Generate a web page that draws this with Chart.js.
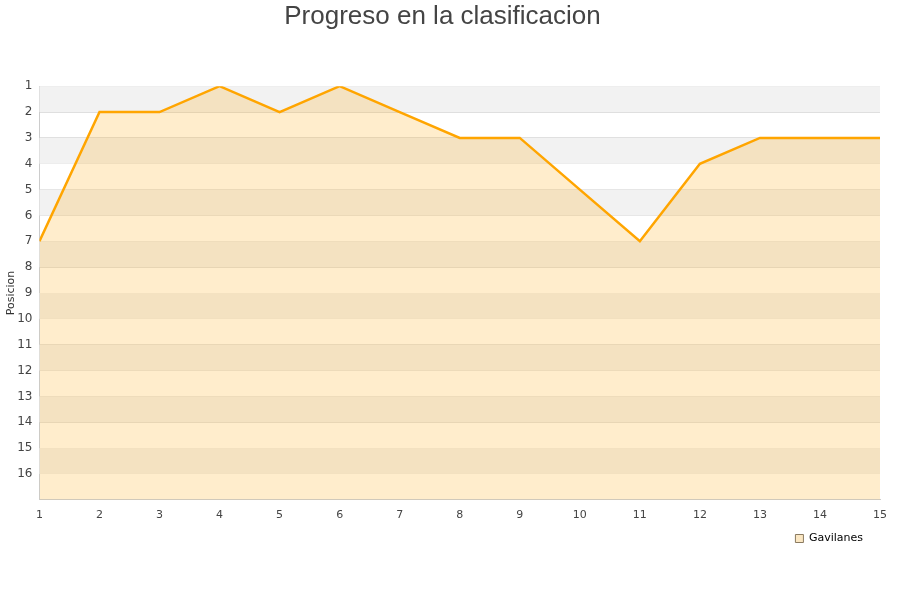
<!DOCTYPE html>
<html>
<head>
<meta charset="utf-8">
<script src="https://cdn.jsdelivr.net/npm/chart.js@4/dist/chart.umd.min.js"></script>
<style>
  body { margin: 0; background: #fff; }
</style>
</head>
<body>
<canvas id="chart" width="900" height="600"></canvas>
<script>
const jornadas = [1, 2, 3, 4, 5, 6, 7, 8, 9, 10, 11, 12, 13, 14, 15];
const posiciones = [7, 2, 2, 1, 2, 1, 2, 3, 3, 5, 7, 4, 3, 3, 3];
const serieNombre = "Gavilanes";

// alternating grey/white bands behind the plot
const bandas = {
  id: "bandas",
  beforeDatasetsDraw(chart) {
    const { ctx, chartArea, scales } = chart;
    const y = scales.y;
    ctx.save();
    ctx.fillStyle = "#f2f2f2";
    for (let v = 1; v < 17; v += 2) {
      const top = y.getPixelForValue(v);
      const bot = y.getPixelForValue(v + 1);
      ctx.fillRect(chartArea.left, top, chartArea.right - chartArea.left, bot - top);
    }
    ctx.restore();
  },
};

new Chart(document.getElementById("chart"), {
  type: "line",
  data: {
    datasets: [
      {
        label: serieNombre,
        data: jornadas.map((j, i) => ({ x: j, y: posiciones[i] })),
        borderColor: "#ffa500",
        backgroundColor: "rgba(255, 165, 0, 0.2)",
        borderWidth: 2.5,
        pointRadius: 0,
        tension: 0,
        fill: { value: 17 },
      },
    ],
  },
  plugins: [bandas],
  options: {
    responsive: false,
    animation: false,
    layout: { padding: { left: 5, right: 20, top: 1, bottom: 46 } },
    plugins: {
      title: {
        display: true,
        text: "Progreso en la clasificacion",
        color: "#444",
        font: { family: "Liberation Sans", size: 26, weight: "normal" },
        padding: { top: 0, bottom: 54 },
      },
      legend: {
        position: "bottom",
        align: "end",
        labels: {
          color: "#222",
          padding: 10,
          font: { family: "DejaVu Sans", size: 11 },
          boxWidth: 8,
          boxHeight: 8,
          generateLabels: (chart) => [
            {
              text: serieNombre + "  ",
              fillStyle: "#fbe7c3",
              strokeStyle: "#8a7a60",
              lineWidth: 1,
              datasetIndex: 0,
            },
          ],
        },
      },
      tooltip: { enabled: false },
    },
    scales: {
      x: {
        type: "linear",
        min: 1,
        max: 15,
        ticks: {
          stepSize: 1,
          padding: 1,
          color: "#444",
          font: { family: "DejaVu Sans", size: 11 },
        },
        grid: { display: false },
        border: { color: "#ccc" },
      },
      y: {
        reverse: true,
        min: 1,
        max: 17,
        ticks: {
          stepSize: 1,
          padding: 7,
          color: "#444",
          font: { family: "DejaVu Sans", size: 12 },
          callback: (v) => (v <= 16 ? v : ""),
        },
        grid: { color: "#dedede", drawTicks: false },
        border: { color: "#ccc" },
        title: {
          display: true,
          text: "Posicion",
          color: "#333",
          font: { family: "DejaVu Sans", size: 11 },
          padding: { top: 0, bottom: -8 },
        },
      },
    },
  },
});
</script>
</body>
</html>
